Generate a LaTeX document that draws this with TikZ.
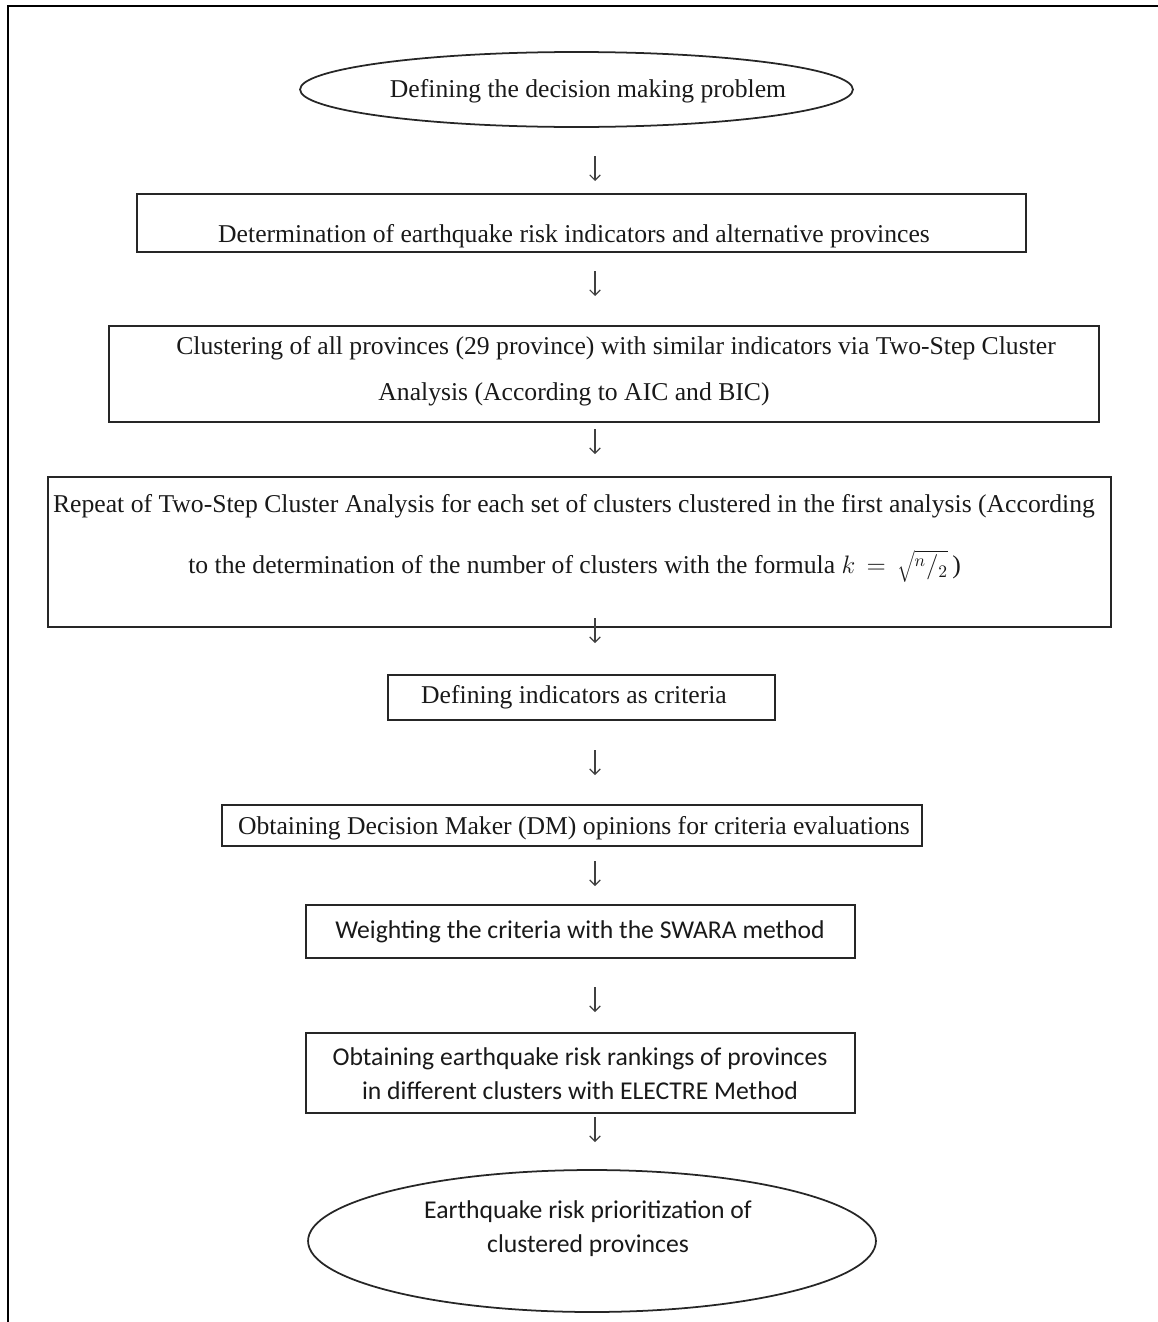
\documentclass[tikz,border=0pt]{standalone}
\usepackage{fontspec}
\setmainfont{Liberation Serif}
\newfontfamily\calib{Carlito}
\usetikzlibrary{shapes.geometric,arrows.meta}
\begin{document}
\begin{tikzpicture}[x=0.02cm,y=-0.02cm,
  shp/.style={draw=black!85,line width=1pt,inner sep=0pt},
  boxshape/.style={shp,rectangle},
  ovalshape/.style={shp,ellipse},
  serif/.style={inner sep=0pt,font=\fontsize{14.6}{17}\selectfont,text=black!90},
  sans/.style={inner sep=0pt,font=\calib\fontsize{14.6}{17}\selectfont,text=black!90},
  darr/.style={draw=black!75,line width=0.7pt,-{Straight Barb[length=3pt,width=6pt]}}]
\useasboundingbox (0,0) rectangle (1158,1322);
\draw[line width=1.7pt] (8,1322) -- (8,6) -- (1158,6);
% shapes
\node[ovalshape,minimum width=11.06cm,minimum height=1.5cm] (e1) at (576.5,89.5) {};
\node[boxshape,minimum width=17.78cm,minimum height=1.16cm] (b2) at (581.5,223) {};
\node[boxshape,minimum width=19.8cm,minimum height=1.92cm] (b3) at (604,374) {};
\node[boxshape,minimum width=21.26cm,minimum height=3.0cm] (b4) at (579.5,552) {};
\node[boxshape,minimum width=7.74cm,minimum height=0.9cm] (b5) at (581.5,697.5) {};
\node[boxshape,minimum width=14cm,minimum height=0.82cm] (b6) at (572,825.5) {};
\node[boxshape,minimum width=10.98cm,minimum height=1.06cm] (b7) at (580.5,931.5) {};
\node[boxshape,minimum width=10.98cm,minimum height=1.6cm] (b8) at (580.5,1073) {};
\node[ovalshape,minimum width=11.36cm,minimum height=2.84cm] (e9) at (592,1241) {};
% texts
\node[serif] (t1) at (588,91) {Defining the decision making problem};
\node[serif] (t2) at (574,236) {Determination of earthquake risk indicators and alternative provinces};
\node[serif] (t3a) at (616,348) {Clustering of all provinces (29 province) with similar indicators via Two-Step Cluster};
\node[serif] (t3b) at (574,394) {Analysis (According to AIC and BIC)};
\node[serif] (t4a) at (574,506) {Repeat of Two-Step Cluster Analysis for each set of clusters clustered in the first analysis (According};
\node[serif,anchor=west] (t4b) at (188,566) {to the determination of the number of clusters with the formula $k\,=\,\sqrt{{}^{n}/{}_{2}}\,$)};
\node[serif] (t5) at (574,697) {Defining indicators as criteria};
\node[serif] (t6) at (574,828) {Obtaining Decision Maker (DM) opinions for criteria evaluations};
\node[sans] (t7) at (580,932) {Weighting the criteria with the SWARA method};
\node[sans] (t8a) at (580,1059) {Obtaining earthquake risk rankings of provinces};
\node[sans] (t8b) at (580,1091) {in different clusters with ELECTRE Method};
\node[sans] (t9a) at (588,1212) {Earthquake risk prioritization of};
\node[sans] (t9b) at (588,1246) {clustered provinces};
% arrows
\coordinate (a1s) at (595,156); \coordinate (a1e) at (595,181);
\coordinate (a2s) at (595,271); \coordinate (a2e) at (595,296);
\coordinate (a3s) at (595,429); \coordinate (a3e) at (595,454);
\coordinate (a4s) at (595,618); \coordinate (a4e) at (595,643);
\coordinate (a5s) at (595,750); \coordinate (a5e) at (595,775);
\coordinate (a6s) at (595,861); \coordinate (a6e) at (595,886);
\coordinate (a7s) at (595,987); \coordinate (a7e) at (595,1012);
\coordinate (a8s) at (595,1117); \coordinate (a8e) at (595,1142);
\foreach \i in {1,...,8} {\draw[darr] (a\i s) -- (a\i e);}
\end{tikzpicture}
\end{document}
